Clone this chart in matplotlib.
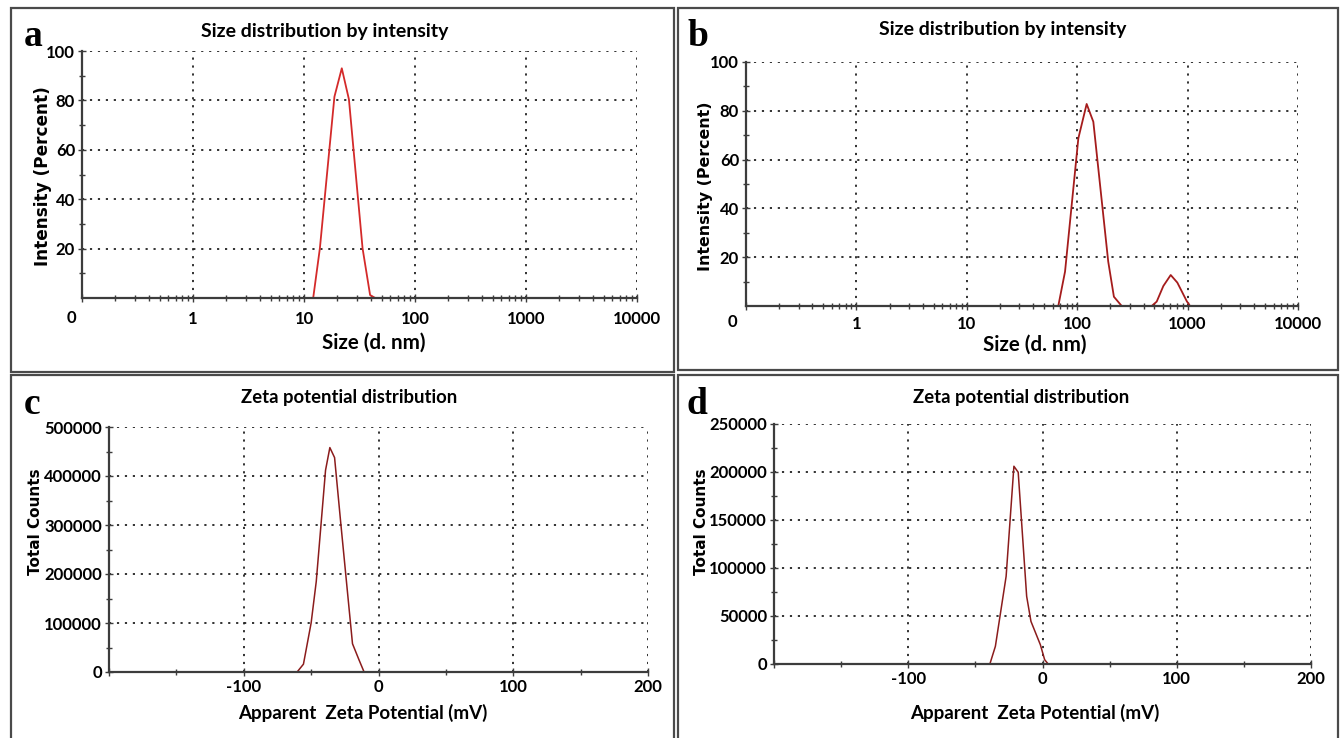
import numpy as np
import matplotlib
matplotlib.use("Agg")
import matplotlib.pyplot as plt
from matplotlib.patches import Rectangle
from matplotlib.ticker import FixedLocator, FixedFormatter, NullFormatter

W, H = 1341, 738

# ---------------- data ----------------
size_a = [0.4, 12.1, 13.9, 18.8, 21.9, 25.4, 33.7, 39.4, 43.8, 10000]
intensity_a = [0, 0, 20.1, 81.5, 93.0, 80.4, 20.1, 1.2, 0, 0]

size_b = [0.4, 67.4, 77.6, 102.4, 121.8, 140, 191, 215, 253, 473, 525, 603, 703, 807, 982, 1052, 10000]
intensity_b = [0, 0, 14.1, 68.7, 82.8, 75.5, 18.2, 3.8, 0, 0, 1.8, 8.2, 12.7, 9.6, 2.0, 0, 0]

zeta_c = [-150, -60.4, -55.7, -50.0, -46.2, -39.3, -36.1, -32.6, -28.1, -19.3, -14.5, -10.7, 150]
counts_c = [0, 0, 16000, 100000, 184500, 411800, 458000, 437600, 306600, 57700, 25000, 0, 0]

zeta_d = [-150, -39.2, -35.1, -27.1, -21.3, -18.1, -11.8, -8.6, -1.6, 1.6, 4.2, 150]
counts_d = [0, 0, 18400, 91300, 206000, 199700, 70500, 44400, 20100, 4500, 0, 0]

size_ticks = [0.1, 1, 10, 100, 1000, 10000]
size_tick_labels = ["", "1", "10", "100", "1000", "10000"]
pct_ticks = [20, 40, 60, 80, 100]
zeta_ticks = [-200, -100, 0, 100, 200]
zeta_tick_labels = ["", "-100", "0", "100", "200"]
counts_c_ticks = [0, 100000, 200000, 300000, 400000, 500000]
counts_d_ticks = [0, 50000, 100000, 150000, 200000, 250000]

TXT = ["Lato", "DejaVu Sans"]
YLAB = ["DejaVu Sans"]

fig = plt.figure(figsize=(W / 100, H / 100), dpi=100)
fig.patch.set_facecolor("white")


def rect(l, t, r, b):
    return [l / W, 1 - b / H, (r - l) / W, (b - t) / H]


def fx(x):
    return x / W


def fy(y):
    return 1 - y / H


# panel frames
for (l, t, r, b) in [(11, 8, 674, 372), (678, 8, 1338, 370),
                     (11, 375, 674, 745), (678, 375, 1338, 745)]:
    fig.patches.append(Rectangle((fx(l), fy(b)), fx(r - l), (b - t) / H,
                                 transform=fig.transFigure, fill=False,
                                 edgecolor="#4a4a4a", lw=1.6, zorder=0))


def style(ax, xpad):
    for s in ["top", "right"]:
        ax.spines[s].set_visible(False)
    for s in ["left", "bottom"]:
        ax.spines[s].set_color("#3c3c3c")
        ax.spines[s].set_linewidth(1.6)
    ax.grid(True, which="major", color="#222222", linestyle=(0, (1.2, 3.2)), lw=1.3)
    ax.tick_params(which="major", direction="inout", length=6, width=1.0, color="#3c3c3c")
    ax.tick_params(which="minor", direction="inout", length=5, width=1.0, color="#3c3c3c")
    ax.tick_params(axis="x", which="major", pad=xpad)
    ax.tick_params(axis="y", which="major", pad=2)
    for lab in ax.get_xticklabels() + ax.get_yticklabels():
        lab.set_fontfamily(TXT)
        lab.set_fontweight("bold")
        lab.set_fontsize(12)
    ax.set_axisbelow(True)


def size_panel(ax, x, y, color, xpad, zero_off):
    ax.plot(x, y, color=color, lw=1.3, zorder=2, clip_on=False)
    ax.set_xscale("log")
    ax.set_xlim(0.1, 10000)
    ax.set_ylim(0, 100)
    ax.xaxis.set_major_locator(FixedLocator(size_ticks))
    ax.xaxis.set_major_formatter(FixedFormatter(size_tick_labels))
    minors = [m * 10.0 ** e for e in range(-1, 4) for m in range(2, 10)]
    ax.xaxis.set_minor_locator(FixedLocator(minors))
    ax.xaxis.set_minor_formatter(NullFormatter())
    ax.yaxis.set_major_locator(FixedLocator(pct_ticks))
    ax.yaxis.set_minor_locator(FixedLocator([10, 30, 50, 70, 90]))
    style(ax, xpad)
    ax.annotate("0", xy=(0.1, 0), xycoords=("data", "axes fraction"),
                xytext=zero_off, textcoords="offset pixels", ha="center", va="top",
                fontfamily=TXT, fontweight="bold", fontsize=12)


def zeta_panel(ax, x, y, yticks, ymax, yminor):
    ax.plot(x, y, color="#8b1c1c", lw=1.1, zorder=2, clip_on=False)
    ax.set_xlim(-200, 200)
    ax.set_ylim(0, ymax)
    ax.xaxis.set_major_locator(FixedLocator(zeta_ticks))
    ax.xaxis.set_major_formatter(FixedFormatter(zeta_tick_labels))
    ax.xaxis.set_minor_locator(FixedLocator([-150, -50, 50, 150]))
    ax.yaxis.set_major_locator(FixedLocator(yticks))
    ax.yaxis.set_major_formatter(FixedFormatter([str(v) for v in yticks]))
    ax.yaxis.set_minor_locator(FixedLocator(yminor))
    style(ax, 2)


# ---- a ----
axa = fig.add_axes(rect(82, 51, 637, 298))
size_panel(axa, size_a, intensity_a, "#d42a2a", 6, (-11, -12))
# ---- b ----
axb = fig.add_axes(rect(746, 62, 1298, 306))
size_panel(axb, size_b, intensity_b, "#a51c1c", 4, (-14, -8))
# ---- c ----
axc = fig.add_axes(rect(109, 427, 648, 672))
zeta_panel(axc, zeta_c, counts_c, counts_c_ticks, 500000,
           [50000, 150000, 250000, 350000, 450000])
# ---- d ----
axd = fig.add_axes(rect(774, 424, 1311, 664))
zeta_panel(axd, zeta_d, counts_d, counts_d_ticks, 250000,
           [25000, 75000, 125000, 175000, 225000])

# titles
tkw = dict(fontfamily=TXT, fontweight="bold", ha="center", va="center")
fig.text(fx(325), fy(32), "Size distribution by intensity", fontsize=14, **tkw)
fig.text(fx(1003), fy(29), "Size distribution by intensity", fontsize=14, **tkw)
fig.text(fx(349), fy(397), "Zeta potential distribution", fontsize=13.3, **tkw)
fig.text(fx(1021), fy(397), "Zeta potential distribution", fontsize=13.3, **tkw)

# x labels
xkw = dict(fontfamily=TXT, fontweight="bold", ha="center", va="center")
fig.text(fx(374), fy(343), "Size (d. nm)", fontsize=14.8, **xkw)
fig.text(fx(1035), fy(345), "Size (d. nm)", fontsize=14.8, **xkw)
fig.text(fx(363), fy(713), "Apparent  Zeta Potential (mV)", fontsize=13.5, **xkw)
fig.text(fx(1035), fy(713), "Apparent  Zeta Potential (mV)", fontsize=13.5, **xkw)

# y labels
ykw = dict(fontfamily=YLAB, fontweight="bold", ha="center", va="center", rotation=90)
fig.text(fx(43), fy(176), "Intensity (Percent)", fontsize=12.2, **ykw)
fig.text(fx(705), fy(186), "Intensity (Percent)", fontsize=11.4, **ykw)
fig.text(fx(36), fy(522), "Total Counts", fontsize=11, **ykw)
fig.text(fx(702), fy(522), "Total Counts", fontsize=11, **ykw)

# panel letters
lkw = dict(fontfamily=["Liberation Serif"], fontweight="bold", fontsize=27,
           ha="center", va="baseline")
fig.text(fx(33), fy(46), "a", **lkw)
fig.text(fx(698), fy(46), "b", **lkw)
fig.text(fx(32), fy(414), "c", **lkw)
fig.text(fx(697), fy(414), "d", **lkw)

fig.savefig("out.png", dpi=100)
